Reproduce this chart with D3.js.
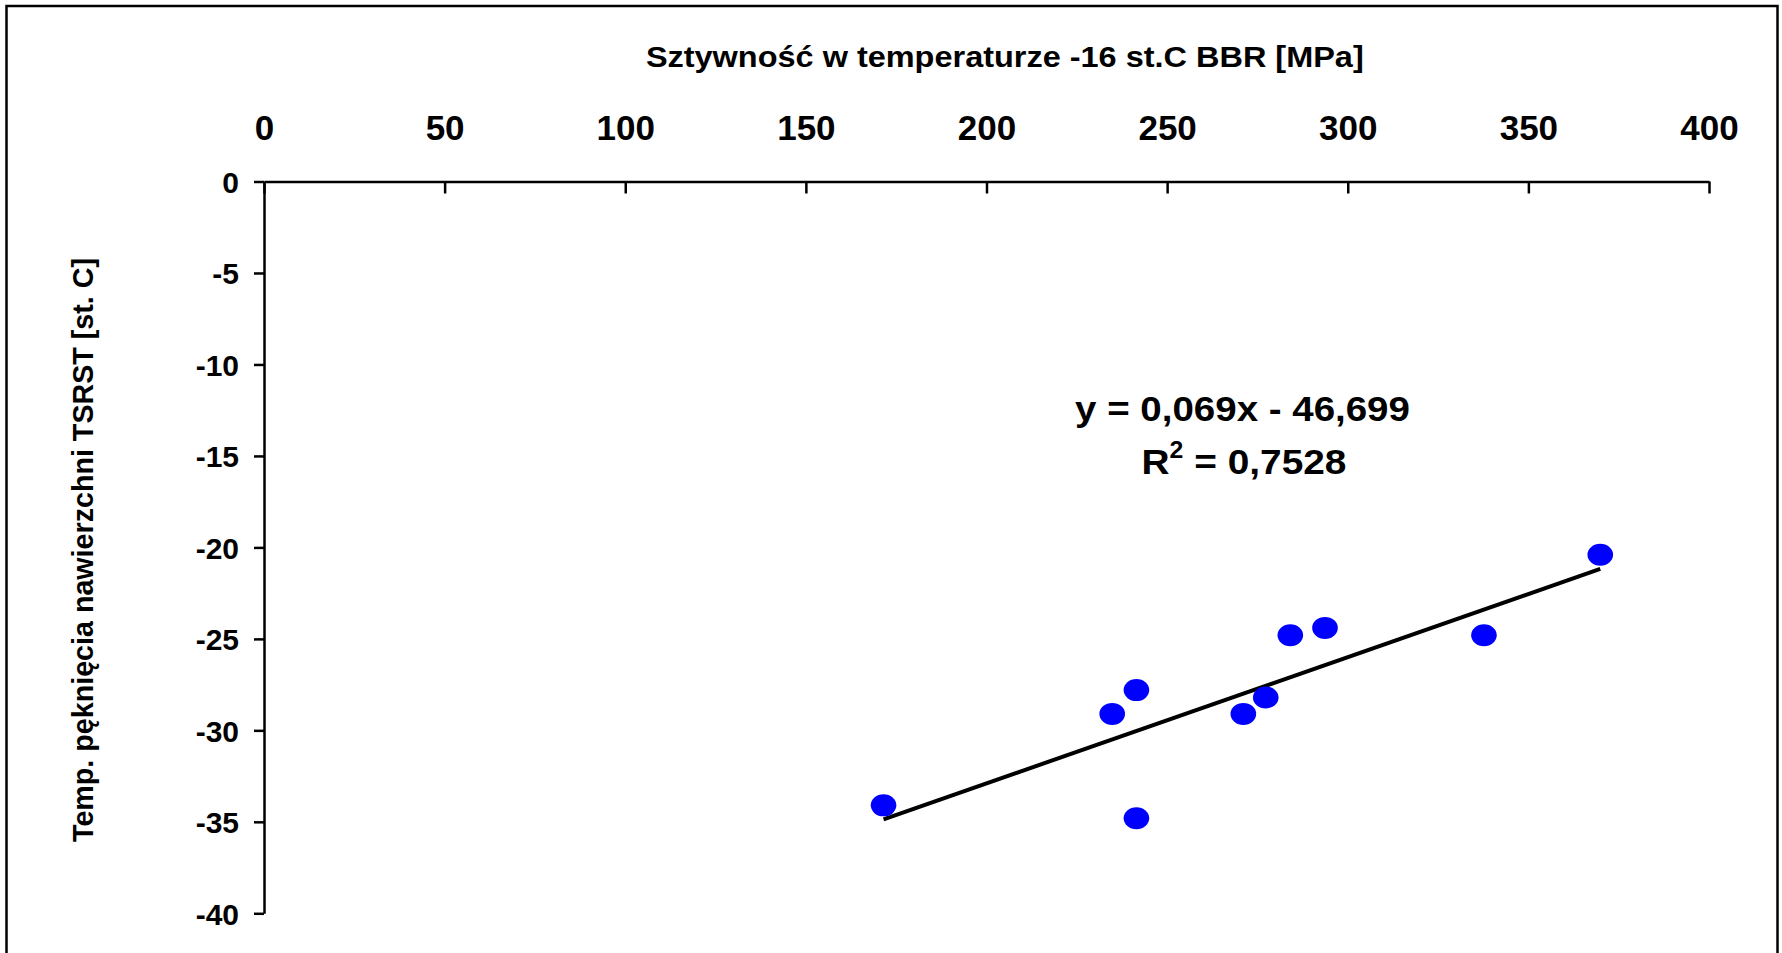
<!DOCTYPE html>
<html>
<head>
<meta charset="utf-8">
<script src="https://cdn.jsdelivr.net/npm/d3@7"></script>
<style>
  body { margin: 0; background: #fff; }
  svg { display: block; font-family: "Liberation Sans", Arial, sans-serif; font-weight: bold; }
</style>
</head>
<body>
<div id="chart"></div>
<script>
// stiffness at -16 C (BBR) vs TSRST cracking temperature
const stiffness = [171.5, 241.5, 234.8, 241.5, 271.1, 277.3, 284.1, 293.7, 337.7, 369.9];
const crackTemp = [-34.1, -27.8, -29.1, -34.8, -29.1, -28.2, -24.8, -24.4, -24.8, -20.4];

const xTicks = [0, 50, 100, 150, 200, 250, 300, 350, 400];
const yTicks = [0, -5, -10, -15, -20, -25, -30, -35, -40];

// trend line as printed on the chart
const slope = 0.069, intercept = -46.699;
const eqText = "y = 0,069x - 46,699";
const r2Value = "0,7528";

const xTitle = "Sztywność w temperaturze -16 st.C BBR [MPa]";
const yTitle = "Temp. pęknięcia nawierzchni TSRST [st. C]";

var width = 1782, height = 953;

var svg = d3.select("#chart").append("svg")
    .attr("width", width)
    .attr("height", height);

// outer frame (runs off the bottom like the original)
svg.append("rect")
    .attr("x", 6.5).attr("y", 6)
    .attr("width", 1771).attr("height", 1000)
    .attr("fill", "none")
    .attr("stroke", "#000")
    .attr("stroke-width", 2.5);

var x = d3.scaleLinear().domain([0, 400]).range([264, 1709]);
var y = d3.scaleLinear().domain([0, -40]).range([181.5, 913.3]);

// plain hyphen for negatives, like the original
var fmt = function (d) { return String(d); };

// stretch text horizontally so it fills the given width
function fit(text, target) {
    var w = text.node().getComputedTextLength();
    return target / w;
}

// x axis on top, ticks pointing down into the plot
var xAxis = svg.append("g")
    .attr("transform", "translate(0," + y(0) + ")")
    .call(d3.axisTop(x).tickValues(xTicks).tickSizeInner(-12).tickSizeOuter(0).tickFormat(fmt));

xAxis.select(".domain").attr("stroke-width", 2.5);
xAxis.selectAll(".tick line").attr("stroke-width", 2.5);
xAxis.selectAll(".tick text")
    .attr("y", -41.5)
    .attr("dy", 0)
    .attr("fill", "#000")
    .style("font-size", "35px");

// y axis
var yAxis = svg.append("g")
    .attr("transform", "translate(" + x(0) + ",0)")
    .call(d3.axisLeft(y).tickValues(yTicks).tickSizeInner(10).tickSizeOuter(0).tickFormat(fmt));

yAxis.select(".domain").attr("stroke-width", 2.5);
yAxis.selectAll(".tick line").attr("stroke-width", 2.5);
yAxis.selectAll(".tick text")
    .attr("x", -25)
    .attr("dy", "0.36em")
    .attr("fill", "#000")
    .style("font-size", "30px");

svg.selectAll("g").attr("font-family", null);

// axis titles
var tx = svg.append("text")
    .attr("text-anchor", "middle")
    .style("font-size", "30px")
    .text(xTitle);
tx.attr("transform", "translate(1004.8,67) scale(" + fit(tx, 718) + ",1)");

var ty = svg.append("text")
    .attr("text-anchor", "middle")
    .style("font-size", "29px")
    .text(yTitle);
ty.attr("transform", "translate(93,550) rotate(-90) scale(" + fit(ty, 584) + ",1)");

// trend line over the data range
var xExt = d3.extent(stiffness);
svg.append("line")
    .attr("x1", x(xExt[0])).attr("y1", y(slope * xExt[0] + intercept))
    .attr("x2", x(xExt[1])).attr("y2", y(slope * xExt[1] + intercept))
    .attr("stroke", "#000")
    .attr("stroke-width", 4);

// points
svg.append("g").selectAll("ellipse")
    .data(stiffness.map(function (d, i) { return [d, crackTemp[i]]; }))
    .enter().append("ellipse")
    .attr("cx", function (d) { return x(d[0]); })
    .attr("cy", function (d) { return y(d[1]); })
    .attr("rx", 12.8)
    .attr("ry", 11)
    .attr("fill", "#0000ff");

// equation label
var eq = svg.append("text")
    .attr("text-anchor", "middle")
    .style("font-size", "36px")
    .text(eqText);
eq.attr("transform", "translate(1242.5,421) scale(" + fit(eq, 335) + ",1)");

var r2 = svg.append("text")
    .attr("text-anchor", "middle")
    .style("font-size", "36px");
r2.append("tspan").text("R");
r2.append("tspan").text("2").style("font-size", "23px").attr("dy", -16);
r2.append("tspan").text(" = " + r2Value).attr("dy", 16);
r2.attr("transform", "translate(1244,474) scale(" + fit(r2, 205) + ",1)");
</script>
</body>
</html>
